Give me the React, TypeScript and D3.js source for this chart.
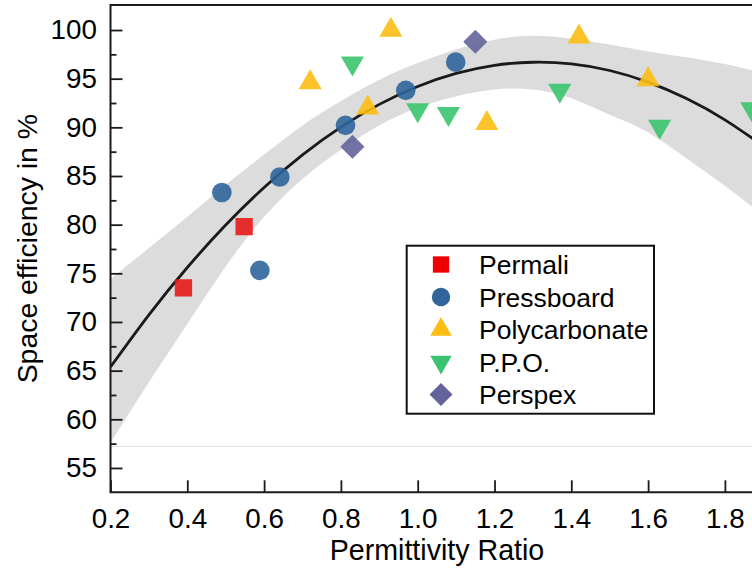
import React, { useEffect, useRef } from 'react';
import * as d3 from 'd3';

// scatter data: permittivity ratio vs space efficiency (%)
const permaliX = [0.39, 0.548];
const permaliY = [73.5, 79.8];
const pressboardX = [0.49, 0.589, 0.641, 0.812, 0.969, 1.099];
const pressboardY = [83.3, 75.3, 84.9, 90.2, 93.8, 96.7];
const polycarbonateX = [0.72, 0.87, 0.93, 1.18, 1.42, 1.6];
const polycarbonateY = [94.6, 92.0, 100.0, 90.4, 99.3, 94.9];
const ppoX = [0.83, 1.0, 1.08, 1.37, 1.63, 1.87];
const ppoY = [96.6, 91.8, 91.4, 93.8, 90.1, 91.9];
const perspexX = [0.83, 1.15];
const perspexY = [88.0, 98.8];

// fitted curve and its confidence band, read at these x values
const bandX = [0.2, 0.3, 0.4, 0.5, 0.6, 0.7, 0.8, 0.9, 1.0, 1.1, 1.2, 1.3, 1.4, 1.5, 1.6, 1.7, 1.8, 1.9];
const fitY = [65.37, 70.74, 75.6, 79.96, 83.82, 87.17, 90.02, 92.36, 94.2, 95.54, 96.37, 96.69, 96.52, 95.84, 94.65, 92.96, 90.77, 88.08];
const bandUpper = [74.4, 77.6, 80.8, 84.1, 87.2, 90.2, 92.7, 94.9, 96.6, 98.0, 99.0, 99.4, 99.1, 98.5, 97.8, 97.2, 96.5, 95.6];
const bandLower = [57.6, 63.8, 69.8, 75.7, 80.8, 84.7, 87.7, 90.2, 92.0, 93.2, 93.9, 93.9, 93.0, 91.3, 89.5, 86.8, 84.0, 80.9];
const baseLineY = 57.2;

const xTicks = [0.2, 0.4, 0.6, 0.8, 1.0, 1.2, 1.4, 1.6, 1.8];
const yTicks = [55, 60, 65, 70, 75, 80, 85, 90, 95, 100];
const yMinorTicks = [57.5, 62.5, 67.5, 72.5, 77.5, 82.5, 87.5, 92.5, 97.5];

const seriesNames = ['Permali', 'Pressboard', 'Polycarbonate', 'P.P.O.', 'Perspex'];

const FONT = '"Liberation Sans", Arial, sans-serif';

const App = () => {
  const ref = useRef<SVGSVGElement>(null);

  useEffect(() => {
    const svg = d3.select(ref.current);
    svg.selectAll('*').remove();

    const left = 110.5, top = 5, bottom = 492.3;
    const x = d3.scaleLinear().domain([0.2, 2.0]).range([left, left + 1.8 * 384]);
    const y = d3.scaleLinear().domain([52.5, 102.57]).range([bottom, top]);

    const series = [
      { name: seriesNames[0], xs: permaliX, ys: permaliY, color: '#e61a1a', legendColor: '#ee0000', type: d3.symbolSquare, rot: 0, size: 300, lsize: 266 },
      { name: seriesNames[1], xs: pressboardX, ys: pressboardY, color: '#30659b', legendColor: '#30659b', type: d3.symbolCircle, rot: 0, size: 302, lsize: 266 },
      { name: seriesNames[2], xs: polycarbonateX, ys: polycarbonateY, color: '#fcbd14', legendColor: '#fcbd14', type: d3.symbolTriangle, rot: 0, size: 231, lsize: 200 },
      { name: seriesNames[3], xs: ppoX, ys: ppoY, color: '#3bc46f', legendColor: '#3bc46f', type: d3.symbolTriangle, rot: 180, size: 231, lsize: 200 },
      { name: seriesNames[4], xs: perspexX, ys: perspexY, color: '#64639b', legendColor: '#64639b', type: d3.symbolSquare, rot: 45, size: 289, lsize: 265 },
    ];

    svg.append('defs').append('clipPath').attr('id', 'plot-clip')
      .append('rect').attr('x', left).attr('y', top).attr('width', 800).attr('height', bottom - top);

    const plot = svg.append('g').attr('clip-path', 'url(#plot-clip)');

    const band = d3.area<number>()
      .x((d, i) => x(bandX[i]))
      .y0((d, i) => y(bandLower[i]))
      .y1((d, i) => y(bandUpper[i]))
      .curve(d3.curveNatural);
    plot.append('path').datum(bandX).attr('d', band).attr('fill', '#dcdcdc');

    plot.append('line')
      .attr('x1', left).attr('x2', 800)
      .attr('y1', y(baseLineY)).attr('y2', y(baseLineY))
      .attr('stroke', '#e2e2e2').attr('stroke-width', 1);

    const fit = d3.line<number>()
      .x((d, i) => x(bandX[i]))
      .y(d => y(d))
      .curve(d3.curveNatural);
    plot.append('path').datum(fitY).attr('d', fit)
      .attr('fill', 'none').attr('stroke', '#1a1a1a').attr('stroke-width', 2.8);

    series.forEach(s => {
      const sym = d3.symbol().type(s.type).size(s.size);
      plot.selectAll(null)
        .data(s.xs.map((v, i) => [v, s.ys[i]]))
        .enter().append('path')
        .attr('d', sym)
        .attr('transform', d => `translate(${x(d[0])},${y(d[1])}) rotate(${s.rot})`)
        .attr('fill', s.color)
        .attr('fill-opacity', 0.9);
    });

    // frame
    svg.append('path')
      .attr('d', `M800,${top}H${left}V${bottom}H800`)
      .attr('fill', 'none').attr('stroke', '#1a1a1a').attr('stroke-width', 2);

    const yAxis = svg.append('g')
      .attr('transform', `translate(${left},0)`)
      .call(d3.axisLeft(y).tickValues(yTicks).tickSizeInner(-12).tickSizeOuter(0).tickPadding(13.5).tickFormat(d3.format('d')));
    svg.append('g')
      .attr('transform', `translate(${left},0)`)
      .call(d3.axisLeft(y).tickValues(yMinorTicks).tickSizeInner(-6).tickSizeOuter(0).tickFormat(() => ''));

    const xAxis = svg.append('g')
      .attr('transform', `translate(0,${bottom})`)
      .call(d3.axisBottom(x).tickValues(xTicks).tickSizeInner(-12).tickSizeOuter(0).tickPadding(15.6).tickFormat(d3.format('.1f')));

    svg.selectAll('.domain').remove();
    svg.selectAll('.tick line').attr('stroke', '#1a1a1a').attr('stroke-width', 1.8);
    [yAxis, xAxis].forEach(a => a.selectAll('text')
      .attr('font-family', FONT).attr('font-size', 27.8).attr('fill', '#000'));

    svg.append('text')
      .attr('x', 437).attr('y', 560)
      .attr('text-anchor', 'middle')
      .attr('font-family', FONT).attr('font-size', 28.6)
      .text('Permittivity Ratio');

    svg.append('text')
      .attr('transform', `translate(37,${(top + bottom) / 2}) rotate(-90)`)
      .attr('text-anchor', 'middle')
      .attr('font-family', FONT).attr('font-size', 28.4)
      .text('Space efficiency in %');

    // legend
    const legend = svg.append('g');
    legend.append('rect')
      .attr('x', 406.7).attr('y', 245.7).attr('width', 247.3).attr('height', 168)
      .attr('fill', '#fff').attr('stroke', '#111').attr('stroke-width', 2);
    series.forEach((s, i) => {
      const cy = 264.5 + i * 32.5;
      legend.append('path')
        .attr('d', d3.symbol().type(s.type).size(s.lsize)())
        .attr('transform', `translate(441,${cy}) rotate(${s.rot})`)
        .attr('fill', s.legendColor);
      legend.append('text')
        .attr('x', 479).attr('y', cy).attr('dy', '0.36em')
        .attr('font-family', FONT).attr('font-size', 26.5)
        .text(s.name);
    });
  }, []);

  return (
    <svg ref={ref} width={752} height={569} style={{ position: 'absolute', left: 0, top: 0, background: '#fff' }}></svg>
  );
};

export default App;
